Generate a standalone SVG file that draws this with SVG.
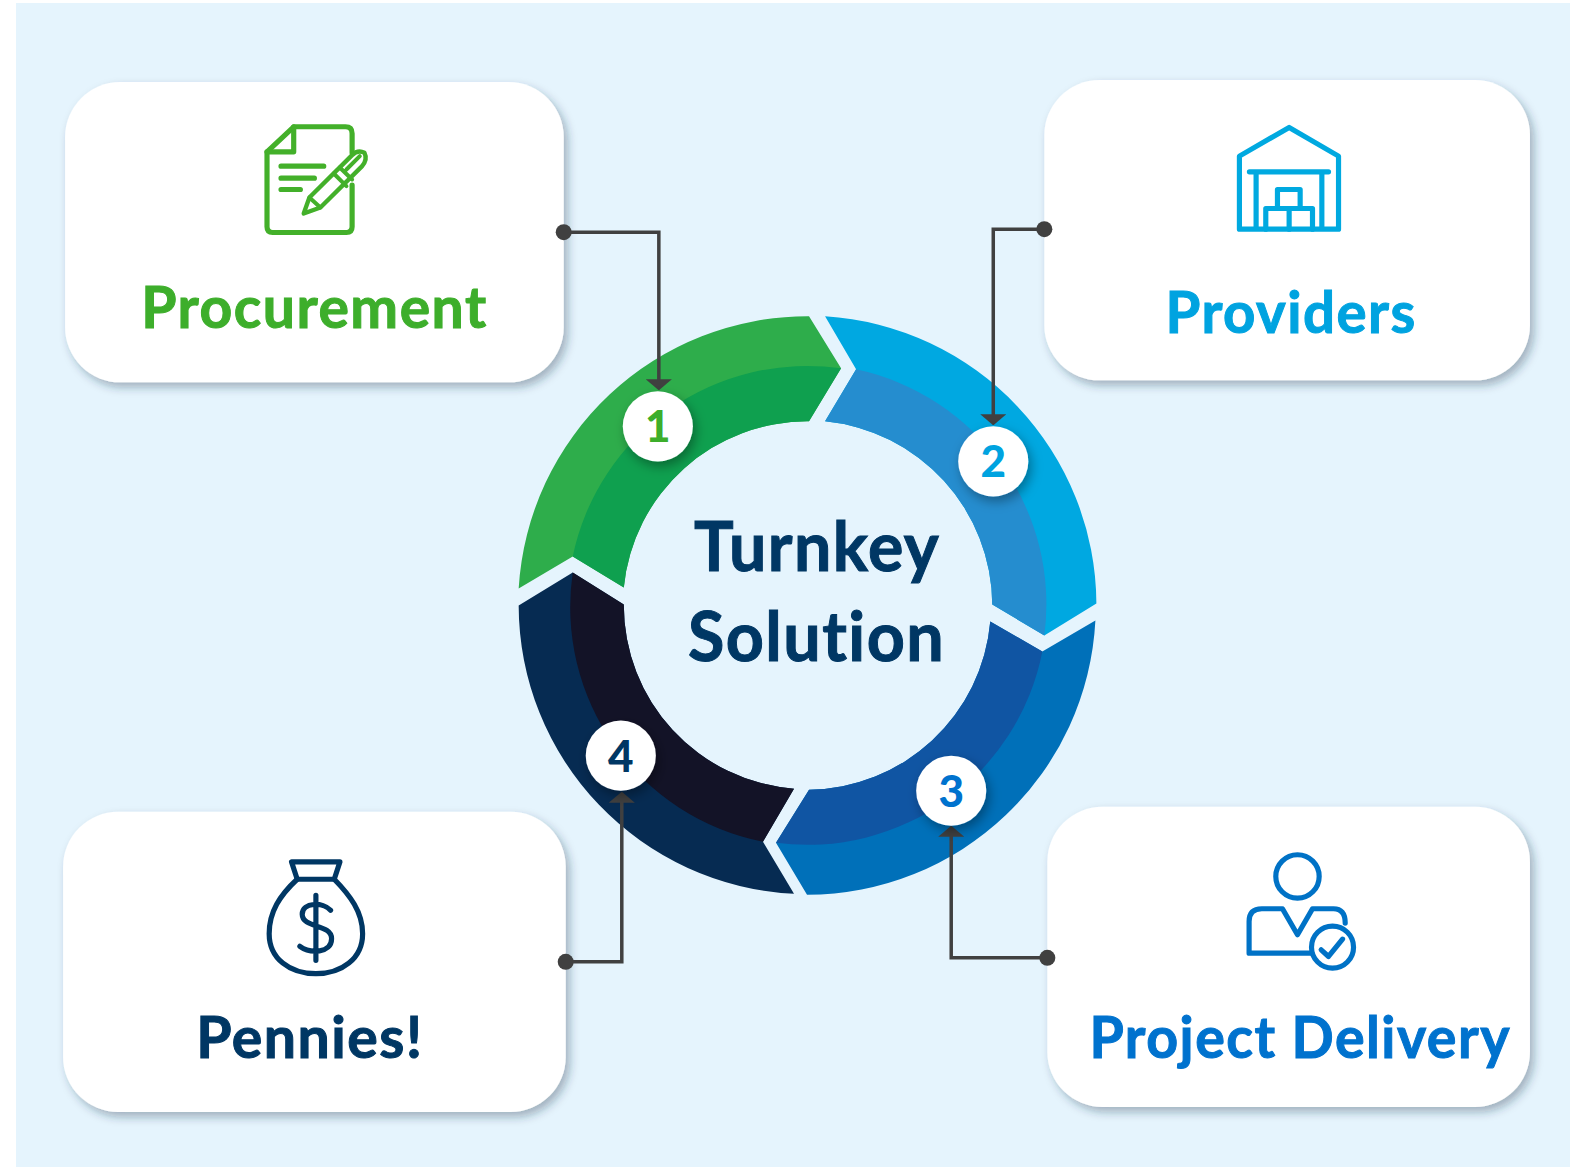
<svg xmlns="http://www.w3.org/2000/svg" width="1570" height="1167" viewBox="0 0 1570 1167">
<style>
.card{fill:#fff;filter:url(#sh)}
.badge{fill:#fff;filter:url(#sh2)}
.lbl{font-family:"Lato","Liberation Sans",sans-serif;font-weight:700;font-variant-ligatures:none;letter-spacing:1.5px;stroke-width:1;paint-order:stroke}
.num{font-family:"Lato","Liberation Sans",sans-serif;font-weight:900;font-size:44px;text-anchor:middle}
.ic{fill:none;stroke-width:15.5;stroke-linecap:round;stroke-linejoin:round}
.con{fill:none;stroke:#404040;stroke-width:3.5;marker-end:url(#ah)}
.dot{fill:#404040}
</style>
<defs>
<filter id="sh" x="-10%" y="-15%" width="120%" height="130%"><feDropShadow dx="4" dy="5" stdDeviation="5" flood-color="#1f3347" flood-opacity=".35"/></filter>
<filter id="sh2" x="-30%" y="-30%" width="160%" height="160%"><feDropShadow dx="3" dy="5" stdDeviation="6" flood-color="#000" flood-opacity=".35"/></filter>
<marker id="ah" markerUnits="userSpaceOnUse" markerWidth="11" markerHeight="26" refX="8" refY="13" viewBox="0 0 11 26" orient="auto"><path d="M0,0 L11,13 L0,26 Z" fill="#404040"/></marker>
</defs>
<g transform="scale(1.00128 1.00086)">
<rect x="16" y="3" width="1554" height="1163" fill="#e5f4fd"/>
<g id="ring">
<path fill="#2ead4b" d="M518,588 A289,289 0 0 1 808,316 L840,368 L808,421 A184,184 0 0 0 623,587 L572,556 Z"/>
<path fill="#0fa04f" d="M572,556 A239,239 0 0 1 840,368 L808,421 A184,184 0 0 0 623,587 Z"/>
<path fill="#00a8e1" d="M824,316 A289,289 0 0 1 1095,603 L1043,635 L991,604 A185,185 0 0 0 824,421 L855,369 Z"/>
<path fill="#258dcf" d="M855,369 A240,240 0 0 1 1043,635 L991,604 A185,185 0 0 0 824,421 Z"/>
<path fill="#0070b9" d="M1094,620 A289,289 0 0 1 806,894 L775,842 L808,789 A184,184 0 0 0 989,621 L1041,651 Z"/>
<path fill="#1055a3" d="M1041,651 A239,239 0 0 1 775,842 L808,789 A184,184 0 0 0 989,621 Z"/>
<path fill="#062b52" d="M518,605 L572,572 L623,604 A184,184 0 0 0 793,788 L762,841 L793,893 A289,289 0 0 1 518,605 Z"/>
<path fill="#131327" d="M572,572 L623,604 A184,184 0 0 0 793,788 L762,841 A239,239 0 0 1 572,572 Z"/>
</g>
<g id="center-label" fill="#003764" stroke="#003764">
<text class="lbl" x="693" y="571" font-size="68" textLength="246" lengthAdjust="spacingAndGlyphs">Turnkey</text>
<text class="lbl" x="687" y="660" font-size="68" textLength="257" lengthAdjust="spacingAndGlyphs">Solution</text>
</g>
<g id="node-procurement">
<rect class="card" x="65" y="82" width="498" height="300" rx="55"/>
<g class="ic" stroke="#43b02a" transform="translate(240 110) scale(.3333)">
<path d="M335,128 V70 Q335,50 315,50 H160 L80,125 V350 Q80,367 97,367 H318 Q335,367 335,350 V225"/>
<path d="M160,50 V125 H80"/>
<path d="M122,168 H250 M122,204 H222 M122,238 H180"/>
<path d="M190,310 L207,262 L335,135 Q352,118 372,128 Q382,148 365,168 L240,292 Z" stroke-width="13"/>
<path d="M207,262 L240,292 M280,190 L318,228 M298,172 L335,208 M318,178 L358,138" stroke-width="12"/>
</g>
<text class="lbl" x="141" y="328" font-size="57" fill="#3dae2b" stroke="#3dae2b" textLength="346" lengthAdjust="spacingAndGlyphs">Procurement</text>
</g>
<g id="node-providers">
<rect class="card" x="1043" y="80" width="485" height="300" rx="55"/>
<g class="ic" stroke="#00a9e0" transform="translate(1208.5 110) scale(.3333)">
<path d="M88,357 V138 L237,52 L385,138 V357 Z"/>
<path d="M118,185 H355 M138,185 V355 M335,185 V355"/>
<path d="M167,357 V295 H307 V357 M237,295 V357 M202,295 V238 H270 V295"/>
</g>
<text class="lbl" x="1164" y="333" font-size="57" fill="#00a3e0" stroke="#00a3e0" textLength="251" lengthAdjust="spacingAndGlyphs">Providers</text>
</g>
<g id="node-pennies">
<rect class="card" x="63" y="811" width="502" height="300" rx="55"/>
<g class="ic" stroke="#003764" transform="translate(239.5 844.5) scale(.3333)">
<path d="M155,50 H300 L283,102 H172 Z"/>
<path d="M172,102 C120,150 88,200 88,265 C88,340 150,385 228,385 C305,385 368,340 368,265 C368,200 330,150 283,102"/>
<path d="M228,150 V345 M272,195 C250,170 187,170 187,207 C187,250 275,235 275,280 C275,325 210,325 180,303"/>
</g>
<text class="lbl" x="196" y="1057" font-size="57" fill="#003764" stroke="#003764" textLength="227" lengthAdjust="spacingAndGlyphs">Pennies!</text>
</g>
<g id="node-project-delivery">
<rect class="card" x="1046" y="806" width="482" height="300" rx="55"/>
<g class="ic" stroke="#0072c6" transform="translate(1223.5 839) scale(.3333)">
<circle cx="217" cy="110" r="65"/>
<path d="M255,340 H72 V245 Q72,207 110,207 H172 L217,285 L262,207 H325 Q360,207 360,250"/>
<circle cx="322" cy="322" r="63" fill="#fff"/>
<path d="M288,330 L310,350 L352,298"/>
</g>
<text class="lbl" x="1088" y="1057" font-size="57" fill="#0072ce" stroke="#0072ce" textLength="421" lengthAdjust="spacingAndGlyphs">Project Delivery</text>
</g>
<g id="connectors">
<path class="con" d="M563,232 H658 V387"/>
<path class="con" d="M1043,229 H992 V422"/>
<path class="con" d="M565,961 H621 V794"/>
<path class="con" d="M1046,957 H950 V828"/>
<circle class="dot" cx="563" cy="232" r="8"/>
<circle class="dot" cx="1043" cy="229" r="8"/>
<circle class="dot" cx="565" cy="961" r="8"/>
<circle class="dot" cx="1046" cy="957" r="8"/>
</g>
<g id="badge-1"><circle class="badge" cx="657" cy="426" r="35"/><text class="num" x="657" y="442" fill="#3dae2b">1</text></g>
<g id="badge-2"><circle class="badge" cx="992" cy="461" r="35"/><text class="num" x="992" y="477" fill="#00a3e0">2</text></g>
<g id="badge-3"><circle class="badge" cx="950" cy="790" r="35"/><text class="num" x="950" y="806" fill="#0072ce">3</text></g>
<g id="badge-4"><circle class="badge" cx="620" cy="755" r="35"/><text class="num" x="620" y="771" fill="#003764">4</text></g>
</g>
</svg>
